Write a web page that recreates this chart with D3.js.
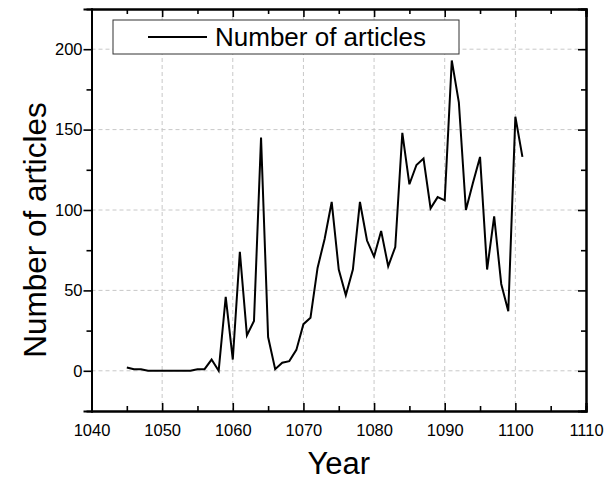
<!DOCTYPE html>
<html>
<head>
<meta charset="utf-8">
<script src="https://cdn.jsdelivr.net/npm/d3@7"></script>
<style>
  body { margin: 0; background: #fff; }
  text { font-family: "Liberation Sans", Arial, sans-serif; fill: #000; }
</style>
</head>
<body>
<div id="chart"></div>
<script>
// DATA
var years = [1045, 1046, 1047, 1048, 1049, 1050, 1051, 1052, 1053, 1054,
  1055, 1056, 1057, 1058, 1059, 1060, 1061, 1062, 1063, 1064,
  1065, 1066, 1067, 1068, 1069, 1070, 1071, 1072, 1073, 1074,
  1075, 1076, 1077, 1078, 1079, 1080, 1081, 1082, 1083, 1084,
  1085, 1086, 1087, 1088, 1089, 1090, 1091, 1092, 1093, 1094,
  1095, 1096, 1097, 1098, 1099, 1100, 1101];
var articles = [2, 1, 1, 0, 0, 0, 0, 0, 0, 0,
  1, 1, 7, 0, 46, 7, 74, 22, 31, 145,
  21, 1, 5, 6, 13, 29, 33, 64, 82, 105,
  63, 47, 63, 105, 81, 71, 87, 65, 77, 148,
  116, 128, 132, 101, 108, 106, 193, 167, 100, 117,
  133, 63, 96, 54, 37, 158, 133];
var xTicks = [1040, 1050, 1060, 1070, 1080, 1090, 1100, 1110];
var xMinor = [1045, 1055, 1065, 1075, 1085, 1095, 1105];
var yTicks = [0, 50, 100, 150, 200];
var yMinor = [25, 75, 125, 175];
var seriesName = 'Number of articles';

(function() {
  var W = 608, H = 481;
  var mLeft = 91.5, mRight = 586, mTop = 9, mBottom = 411;

  var svg = d3.select('#chart').append('svg')
    .attr('width', W)
    .attr('height', H);

  var xScale = d3.scaleLinear().domain([1040, 1110]).range([mLeft, mRight]);
  var yScale = d3.scaleLinear().domain([-25, 225]).range([mBottom, mTop]);

  // grid
  svg.append('g')
    .selectAll('line')
    .data(xTicks.slice(1, -1))
    .enter().append('line')
    .attr('x1', d => xScale(d)).attr('x2', d => xScale(d))
    .attr('y1', mTop).attr('y2', mBottom)
    .attr('stroke', '#c8c8c8').attr('stroke-width', 1)
    .attr('stroke-dasharray', '4,3');

  svg.append('g')
    .selectAll('line')
    .data(yTicks)
    .enter().append('line')
    .attr('x1', mLeft).attr('x2', mRight)
    .attr('y1', d => yScale(d)).attr('y2', d => yScale(d))
    .attr('stroke', '#c8c8c8').attr('stroke-width', 1)
    .attr('stroke-dasharray', '4,3');

  // the series
  var line = d3.line()
    .x((d, i) => xScale(years[i]))
    .y(d => yScale(d));

  svg.append('path')
    .datum(articles)
    .attr('d', line)
    .attr('fill', 'none')
    .attr('stroke', '#000')
    .attr('stroke-width', 2)
    .attr('stroke-linejoin', 'miter');

  // axes, frame on all four sides
  svg.append('g')
    .attr('transform', 'translate(0,' + mBottom + ')')
    .call(d3.axisBottom(xScale).tickValues(xTicks).tickSize(-8).tickPadding(13).tickFormat(d3.format('d')))
    .call(g => g.append('g').call(d3.axisBottom(xScale).tickValues(xMinor).tickSize(-5).tickFormat('')));

  svg.append('g')
    .attr('transform', 'translate(0,' + mTop + ')')
    .call(d3.axisTop(xScale).tickValues(xTicks).tickSize(-8).tickFormat(''))
    .call(g => g.append('g').call(d3.axisTop(xScale).tickValues(xMinor).tickSize(-5).tickFormat('')));

  svg.append('g')
    .attr('transform', 'translate(' + mLeft + ',0)')
    .call(d3.axisLeft(yScale).tickValues(yTicks).tickSize(8).tickPadding(1))
    .call(g => g.append('g').call(d3.axisLeft(yScale).tickValues(yMinor).tickSize(5).tickFormat('')));

  svg.append('g')
    .attr('transform', 'translate(' + mRight + ',0)')
    .call(d3.axisRight(yScale).tickValues(yTicks).tickSize(-8).tickFormat(''))
    .call(g => g.append('g').call(d3.axisRight(yScale).tickValues(yMinor).tickSize(-5).tickFormat('')));

  svg.selectAll('.domain').attr('stroke', '#000').attr('stroke-width', 2);
  svg.selectAll('.tick line').attr('stroke', '#000').attr('stroke-width', 1.6);
  svg.selectAll('.tick text')
    .attr('font-family', '"Liberation Sans", Arial, sans-serif')
    .attr('font-size', 16.5)
    .style('font-size', '16.5px')
    .attr('fill', '#000');

  // axis titles
  svg.append('text')
    .attr('x', (mLeft + mRight) / 2)
    .attr('y', 474)
    .attr('text-anchor', 'middle')
    .style('font-size', '31px')
    .text('Year');

  svg.append('text')
    .attr('transform', 'translate(46,230)rotate(-90)')
    .attr('text-anchor', 'middle')
    .style('font-size', '31.5px')
    .text('Number of articles');

  // legend
  var legend = svg.append('g');
  legend.append('rect')
    .attr('x', 113).attr('y', 20)
    .attr('width', 346).attr('height', 34)
    .attr('fill', '#fff')
    .attr('stroke', '#333').attr('stroke-width', 1);
  legend.append('line')
    .attr('x1', 148).attr('x2', 207)
    .attr('y1', 37).attr('y2', 37)
    .attr('stroke', '#000').attr('stroke-width', 2);
  legend.append('text')
    .attr('x', 215).attr('y', 46)
    .style('font-size', '26px')
    .text(seriesName);
})();
</script>
</body>
</html>
